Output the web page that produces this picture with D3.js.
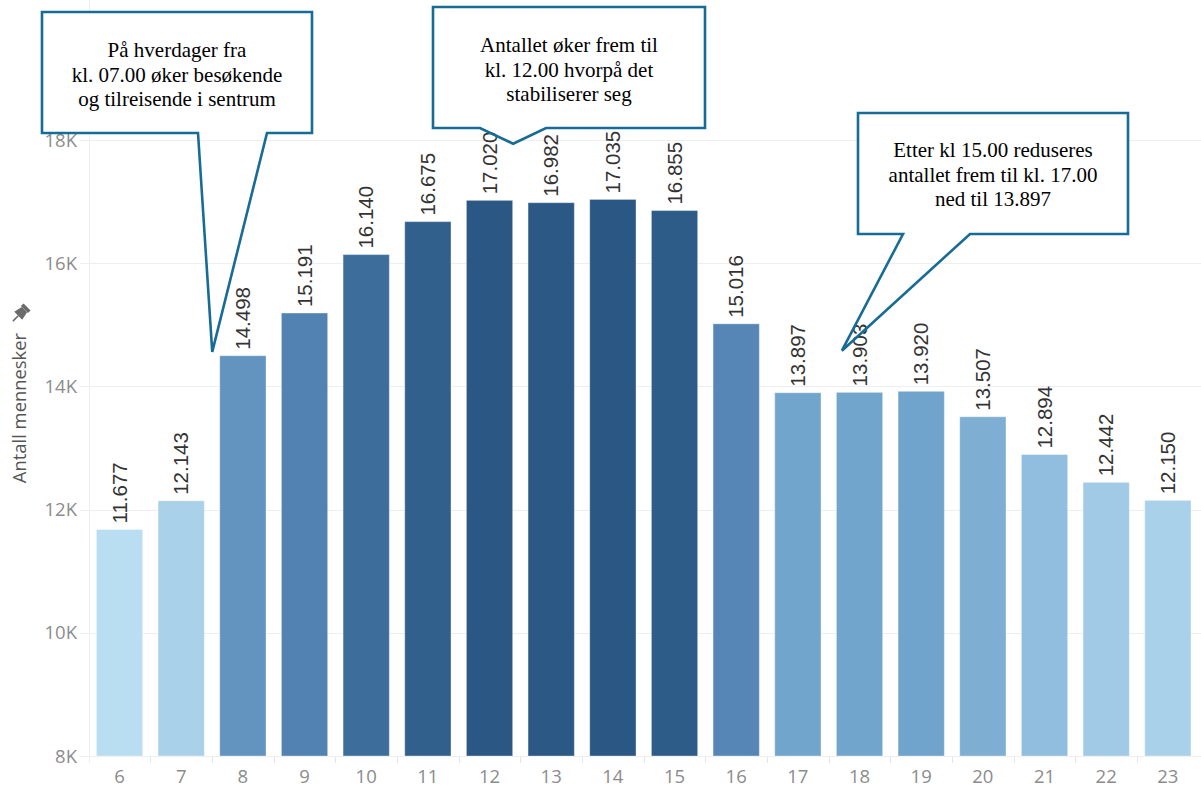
<!DOCTYPE html>
<html>
<head>
<meta charset="utf-8">
<script src="https://cdn.jsdelivr.net/npm/d3@7"></script>
<style>
  html, body { margin: 0; padding: 0; background: #fff; }
  svg { display: block; }
</style>
</head>
<body>
<div id="chart"></div>
<script>
// ---- Data ----
const hours = [6, 7, 8, 9, 10, 11, 12, 13, 14, 15, 16, 17, 18, 19, 20, 21, 22, 23];
const people = [11677, 12143, 14498, 15191, 16140, 16675, 17020, 16982, 17035, 16855,
                15016, 13897, 13903, 13920, 13507, 12894, 12442, 12150];
const yTicks = [8000, 10000, 12000, 14000, 16000, 18000];
const yTitle = "Antall mennesker";

const notes = [
  { lines: ["På hverdager fra", "kl. 07.00 øker besøkende", "og tilreisende i sentrum"] },
  { lines: ["Antallet øker frem til", "kl. 12.00 hvorpå det", "stabiliserer seg"] },
  { lines: ["Etter kl 15.00 reduseres", "antallet frem til kl. 17.00", "ned til 13.897"] }
];

// ---- Layout ----
const W = 1201, H = 789;
const plotLeft = 88.7, plotRight = 1198.7, baseY = 756, topY = 140;

const svg = d3.select("#chart").append("svg")
  .attr("width", W).attr("height", H)
  .attr("viewBox", `0 0 ${W} ${H}`);

const x = d3.scaleBand().domain(hours).range([plotLeft, plotRight])
  .paddingInner(0.25).paddingOuter(0.125);
const y = d3.scaleLinear().domain([8000, 18000]).range([baseY, topY]);

const color = d3.scaleLinear()
  .domain([11677, 12894, 13900, 15016, 16140, 17035])
  .range(["#b9ddf1", "#91bedf", "#72a5cc", "#5686b5", "#3d6e9b", "#2a5783"])
  .clamp(true);

const nf = d3.formatLocale({ decimal: ",", thousands: ".", grouping: [3], currency: ["", ""] }).format(",d");

// gridlines
const grid = svg.append("g");
grid.selectAll("line").data(yTicks).join("line")
  .attr("x1", 80).attr("x2", W)
  .attr("y1", d => Math.round(y(d)) + 0.5).attr("y2", d => Math.round(y(d)) + 0.5)
  .attr("stroke", "#eeeeee").attr("stroke-width", 1);

// vertical axis line
svg.append("line")
  .attr("x1", Math.round(plotLeft) + 0.5).attr("x2", Math.round(plotLeft) + 0.5)
  .attr("y1", 0).attr("y2", baseY + 7)
  .attr("stroke", "#eeeeee");

// x tick marks at band boundaries
const bounds = hours.map(h => x(h) - x.step() * x.paddingInner() / 2);
svg.append("g").selectAll("line").data(bounds.slice(1)).join("line")
  .attr("x1", d => Math.round(d) + 0.5).attr("x2", d => Math.round(d) + 0.5)
  .attr("y1", baseY + 1).attr("y2", baseY + 7)
  .attr("stroke", "#e6e6e6");

// y tick labels
svg.append("g").selectAll("text").data(yTicks).join("text")
  .attr("x", 77).attr("y", d => y(d))
  .attr("dy", "0.36em")
  .attr("text-anchor", "end")
  .attr("font-family", "'Open Sans', sans-serif")
  .attr("font-size", 18.5)
  .attr("fill", "#8c8c8c")
  .text(d => (d / 1000) + "K");

// x tick labels
svg.append("g").selectAll("text").data(hours).join("text")
  .attr("x", d => x(d) + x.bandwidth() / 2)
  .attr("y", 783)
  .attr("text-anchor", "middle")
  .attr("font-family", "'Open Sans', sans-serif")
  .attr("font-size", 18.5)
  .attr("fill", "#8c8c8c")
  .text(d => d);

// y title
svg.append("text")
  .attr("transform", `translate(26, 408) rotate(-90)`)
  .attr("text-anchor", "middle")
  .attr("font-family", "'Open Sans', sans-serif")
  .attr("font-size", 18.4)
  .attr("fill", "#555")
  .text(yTitle);

// pin icon
const pin = svg.append("g").attr("transform", "translate(20, 314) rotate(45) scale(1.25)").attr("fill", "#6b6b6b");
pin.append("rect").attr("x", -4).attr("y", -8).attr("width", 8).attr("height", 3);
pin.append("path").attr("d", "M-3,-5 L3,-5 L4.5,2 L-4.5,2 Z");
pin.append("line").attr("x1", 0).attr("x2", 0).attr("y1", 2).attr("y2", 8)
  .attr("stroke", "#6b6b6b").attr("stroke-width", 1.3);

// bars
svg.append("g").selectAll("rect").data(hours).join("rect")
  .attr("x", d => x(d))
  .attr("width", x.bandwidth())
  .attr("y", (d, i) => y(people[i]))
  .attr("height", (d, i) => baseY - y(people[i]))
  .attr("fill", (d, i) => color(people[i]))
  .attr("stroke", "rgba(255,255,255,0.35)")
  .attr("stroke-width", 1);

// value labels
svg.append("g").selectAll("text").data(hours).join("text")
  .attr("transform", (d, i) => `translate(${x(d) + x.bandwidth() / 2}, ${y(people[i]) - 6}) rotate(-90)`)
  .attr("dy", "0.35em")
  .attr("text-anchor", "start")
  .attr("font-family", "'Liberation Sans', Arial, sans-serif")
  .attr("font-size", 20.5)
  .attr("fill", "#333")
  .text((d, i) => nf(people[i]));

// callouts
const boxes = [
  { x0: 42, y0: 12, x1: 312, y1: 133, p0: 198, p1: 267, tx: x(8) - 7.5, ty: y(14560), base: 57 },
  { x0: 433, y0: 7, x1: 705, y1: 128, p0: 480, p1: 546, tx: x(12) + x.bandwidth() + 0.5, ty: y(17940), base: 52 },
  { x0: 858, y0: 113, x1: 1128, y1: 234, p0: 903, p1: 970, tx: x(18) + 5.5, ty: y(14580), base: 157 }
];
const cg = svg.append("g");
boxes.forEach((b, k) => {
  cg.append("rect").attr("x", b.x0).attr("y", b.y0)
    .attr("width", b.x1 - b.x0).attr("height", b.y1 - b.y0).attr("fill", "#fff");
  const path = `M${b.x0},${b.y0} L${b.x1},${b.y0} L${b.x1},${b.y1} L${b.p1},${b.y1} L${b.tx},${b.ty} L${b.p0},${b.y1} L${b.x0},${b.y1} Z`;
  cg.append("path").attr("d", path)
    .attr("fill", "none").attr("stroke", "#176c95").attr("stroke-width", 2.6)
    .attr("stroke-linejoin", "miter");
  const t = cg.append("text")
    .attr("text-anchor", "middle")
    .attr("font-family", "'Liberation Serif', 'Times New Roman', serif")
    .attr("font-size", 21)
    .attr("fill", "#000");
  notes[k].lines.forEach((ln, j) => {
    t.append("tspan").attr("x", (b.x0 + b.x1) / 2).attr("y", b.base + j * 24.5).text(ln);
  });
});
</script>
</body>
</html>
